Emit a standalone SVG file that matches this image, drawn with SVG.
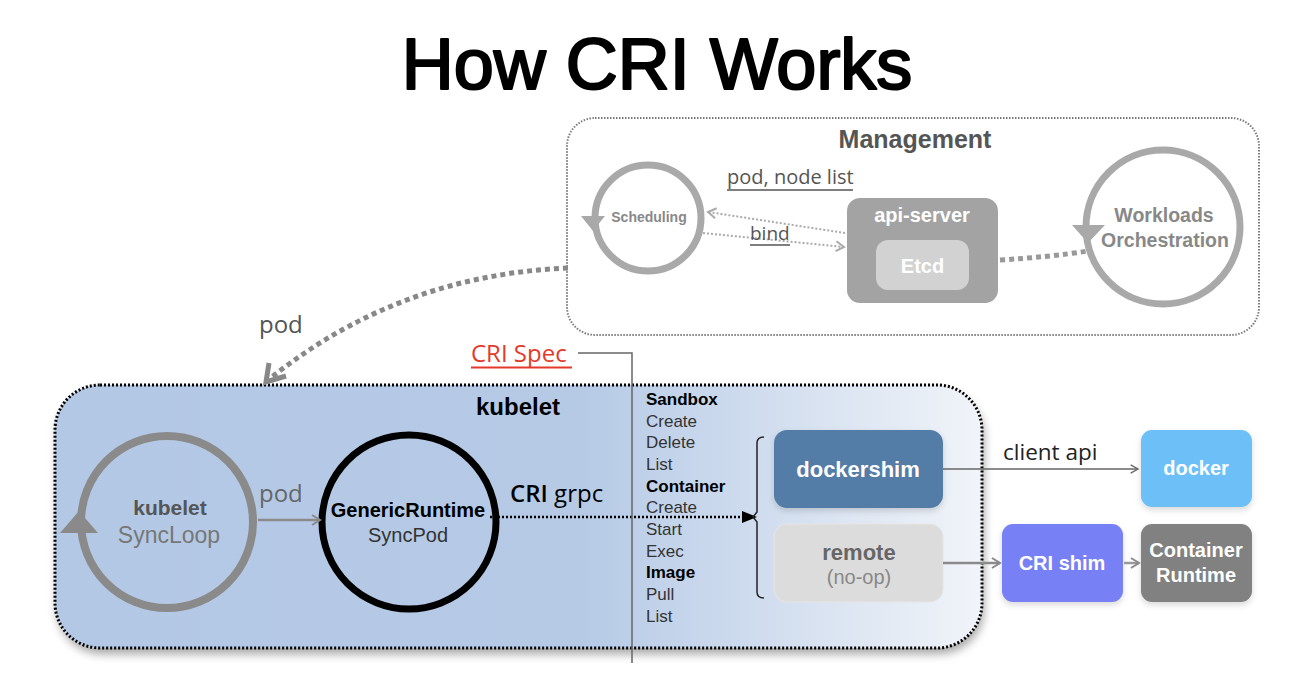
<svg xmlns="http://www.w3.org/2000/svg" width="1303" height="687" viewBox="0 0 1303 687">
<style>
.h{font-family:"Liberation Sans",Arial,sans-serif}
.o{font-family:"Open Sans","Liberation Sans",sans-serif}
.b{font-weight:bold}
.ctr{text-anchor:middle}
.list{font-family:"Liberation Sans",Arial,sans-serif;font-size:17px;fill:#333}
.list .b{fill:#000}
.wt{fill:#fff;font-family:"Liberation Sans",Arial,sans-serif;font-weight:bold;text-anchor:middle}
</style>
<defs>
<linearGradient id="kg" x1="0" y1="0" x2="1" y2="0">
<stop offset="0" stop-color="#b3c8e5"/>
<stop offset="0.57" stop-color="#b6cae6"/>
<stop offset="1" stop-color="#f1f4f9"/>
</linearGradient>
<filter id="sh" x="-5%" y="-10%" width="110%" height="125%">
<feDropShadow dx="2" dy="6" stdDeviation="5" flood-color="#000" flood-opacity="0.35"/>
</filter>
<filter id="sh2" x="-10%" y="-10%" width="120%" height="130%">
<feDropShadow dx="0" dy="3" stdDeviation="3" flood-color="#000" flood-opacity="0.15"/>
</filter>
<marker id="chG" viewBox="0 0 12 12" refX="10" refY="6" markerWidth="12" markerHeight="12" markerUnits="userSpaceOnUse" orient="auto">
<path d="M2,1 L10,6 L2,11" fill="none" stroke="#8a8a8a" stroke-width="2"/>
</marker>
<marker id="chL" viewBox="0 0 12 12" refX="10" refY="6" markerWidth="12" markerHeight="12" markerUnits="userSpaceOnUse" orient="auto">
<path d="M2,1 L10,6 L2,11" fill="none" stroke="#aaa" stroke-width="2"/>
</marker>
<marker id="chD" viewBox="0 0 12 12" refX="10" refY="6" markerWidth="11" markerHeight="11" markerUnits="userSpaceOnUse" orient="auto">
<path d="M2,1.5 L10,6 L2,10.5" fill="none" stroke="#666" stroke-width="1.5"/>
</marker>
</defs>
<rect width="1303" height="687" fill="#fff"/>

<text class="h ctr" x="657" y="89" font-size="72" fill="#000" stroke="#000" stroke-width="2.2" stroke-linejoin="round">How CRI Works</text>

<g id="management">
<rect x="567" y="118" width="692" height="217" rx="28" fill="none" stroke="#7a7a7a" stroke-width="2" stroke-dasharray="1.5 1.5"/>
<text class="h b ctr" x="915" y="148" font-size="25" fill="#555">Management</text>
</g>

<g id="scheduling">
<circle cx="648" cy="218" r="53" fill="none" stroke="#a9a9a9" stroke-width="7"/>
<polygon points="581,216 605,216 593,231" fill="#a9a9a9"/>
<text class="h b ctr" x="649" y="222" font-size="14" fill="#888">Scheduling</text>
</g>

<g id="api-server">
<rect x="847" y="198" width="151" height="105" rx="13" fill="#a3a3a3"/>
<text class="wt" x="922" y="222" font-size="20">api-server</text>
<g id="etcd">
<rect x="876" y="240" width="93" height="50" rx="12" fill="#d2d2d2"/>
<text class="wt" x="922.5" y="273" font-size="20">Etcd</text>
</g>
</g>

<g id="workloads">
<circle cx="1163" cy="227" r="77" fill="none" stroke="#a9a9a9" stroke-width="7"/>
<polygon points="1072,225 1105,225 1088,243" fill="#a9a9a9"/>
<text class="h b ctr" x="1164" y="222" font-size="19.5" fill="#888">Workloads</text>
<text class="h b ctr" x="1165" y="247" font-size="19.5" fill="#888">Orchestration</text>
</g>

<g id="kubelet">
<rect x="55" y="385" width="927" height="263" rx="45" fill="url(#kg)" filter="url(#sh)"/>
<rect x="55" y="385" width="927" height="263" rx="45" fill="none" stroke="#000" stroke-width="3" stroke-dasharray="2 2"/>
<text class="h b ctr" x="518" y="415" font-size="24" fill="#000">kubelet</text>
</g>

<g id="syncloop">
<circle cx="167" cy="522" r="86" fill="none" stroke="#8a8a8a" stroke-width="8"/>
<polygon points="60,533 98,533 79,511" fill="#8a8a8a"/>
<text class="h b ctr" x="170" y="515" font-size="21" fill="#555">kubelet</text>
<text class="h ctr" x="169" y="543" font-size="23" fill="#777">SyncLoop</text>
</g>

<g id="genericruntime">
<circle cx="409" cy="522" r="87" fill="none" stroke="#000" stroke-width="7"/>
<text class="h b ctr" x="408" y="517" font-size="20" fill="#000">GenericRuntime</text>
<text class="h ctr" x="408" y="542" font-size="20" fill="#333">SyncPod</text>
</g>

<g id="cri-spec">
<text class="o" x="471" y="362" font-size="24" fill="#e5392b">CRI Spec</text>
<line x1="471" y1="367.5" x2="572" y2="367.5" stroke="#e5392b" stroke-width="2"/>
<text class="list" x="646"><tspan class="b" x="646" y="405">Sandbox</tspan><tspan x="646" y="427">Create</tspan><tspan x="646" y="448">Delete</tspan><tspan x="646" y="470">List</tspan><tspan class="b" x="646" y="492">Container</tspan><tspan x="646" y="513">Create</tspan><tspan x="646" y="535">Start</tspan><tspan x="646" y="557">Exec</tspan><tspan class="b" x="646" y="578">Image</tspan><tspan x="646" y="600">Pull</tspan><tspan x="646" y="622">List</tspan></text>
</g>

<g id="dockershim">
<rect x="774" y="430" width="169" height="78" rx="13" fill="#527ca6" filter="url(#sh2)"/>
<text class="wt" x="858" y="477" font-size="22">dockershim</text>
</g>

<g id="remote">
<rect x="774" y="524" width="169" height="78" rx="13" fill="#dcdcdc" stroke="#e6e6e6" stroke-width="1"/>
<text class="h b ctr" x="859" y="560" font-size="22" fill="#666">remote</text>
<text class="h ctr" x="859" y="584" font-size="20" fill="#888">(no-op)</text>
</g>

<g id="docker">
<rect x="1141" y="430" width="111" height="77" rx="11" fill="#6cbff7" filter="url(#sh2)"/>
<text class="wt" x="1196" y="475" font-size="20">docker</text>
</g>

<g id="cri-shim">
<rect x="1002" y="524" width="121" height="78" rx="11" fill="#7880f5" filter="url(#sh2)"/>
<text class="wt" x="1062" y="570" font-size="20">CRI shim</text>
</g>

<g id="container-runtime">
<rect x="1141" y="524" width="111" height="78" rx="11" fill="#818181" filter="url(#sh2)"/>
<text class="wt" x="1196" y="557" font-size="20">Container</text>
<text class="wt" x="1196" y="582" font-size="20">Runtime</text>
</g>

<g id="connectors">
<path d="M845,233 L708,212" fill="none" stroke="#aaa" stroke-width="2" stroke-dasharray="2 2" marker-end="url(#chL)"/>
<path d="M703,233 L844,247" fill="none" stroke="#aaa" stroke-width="2" stroke-dasharray="2 2" marker-end="url(#chL)"/>
<text class="o" x="727" y="184" font-size="20" fill="#555">pod, node list</text>
<line x1="727" y1="190" x2="853" y2="190" stroke="#555" stroke-width="1.5"/>
<text class="o" x="750" y="240" font-size="19" fill="#555">bind</text>
<line x1="750" y1="245" x2="790" y2="245" stroke="#555" stroke-width="1.5"/>
<path d="M1000,260 Q1050,257 1088,251" fill="none" stroke="#999" stroke-width="5" stroke-dasharray="5 4"/>
<path d="M568,268 Q400,275 272,377" fill="none" stroke="#888" stroke-width="5" stroke-dasharray="5 4"/>
<polyline points="269,363 266,382 286,376" fill="none" stroke="#888" stroke-width="5"/>
<text class="o" x="259" y="333" font-size="24" fill="#555">pod</text>
<path d="M258,520 L320,520" fill="none" stroke="#8a8a8a" stroke-width="2.5" marker-end="url(#chG)"/>
<text class="o" x="259" y="502" font-size="24" fill="#666">pod</text>
<path d="M490,517 L744,517" fill="none" stroke="#000" stroke-width="2.5" stroke-dasharray="2 2"/>
<polygon points="742,511 757,517 742,523" fill="#000"/>
<text class="o" x="510" y="502" font-size="24" fill="#000"><tspan font-weight="600">CRI</tspan> grpc</text>
<path d="M578,353 L632,353 L632,663" fill="none" stroke="#666" stroke-width="1.5"/>
<path d="M764,437 Q757,437 757,443 L757,512 L753,517 L757,522 L757,592 Q757,598 764,598" fill="none" stroke="#222" stroke-width="1.5"/>
<path d="M943,469 L1138,469" fill="none" stroke="#666" stroke-width="1.5" marker-end="url(#chD)"/>
<text class="o" x="1003" y="460" font-size="22.5" fill="#222">client api</text>
<path d="M943,563 L1000,563" fill="none" stroke="#8a8a8a" stroke-width="2.5" marker-end="url(#chG)"/>
<path d="M1124,563 L1139,563" fill="none" stroke="#999" stroke-width="2.5" marker-end="url(#chG)"/>
</g>
</svg>
